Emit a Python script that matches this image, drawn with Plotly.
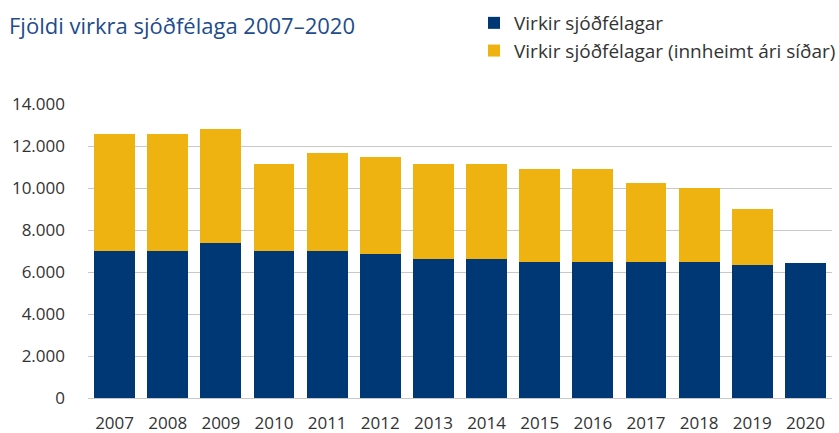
import plotly.graph_objects as go

years = ["2007", "2008", "2009", "2010", "2011", "2012", "2013",
         "2014", "2015", "2016", "2017", "2018", "2019", "2020"]
virkir = [7000, 7000, 7400, 7000, 7000, 6850, 6600,
          6600, 6500, 6500, 6500, 6500, 6350, 6450]
innheimt_seinna = [5550, 5550, 5400, 4150, 4650, 4650, 4550,
                   4550, 4400, 4400, 3750, 3500, 2650, None]
y_ticks = [0, 2000, 4000, 6000, 8000, 10000, 12000, 14000]
y_tick_labels = ["0", "2.000", "4.000", "6.000", "8.000", "10.000", "12.000", "14.000"]

BLUE = "#003876"
YELLOW = "#EEB311"
FONT = "Open Sans"

fig = go.Figure()
fig.add_trace(go.Bar(x=years, y=virkir, name="Virkir sjóðfélagar",
                     marker=dict(color=BLUE, line=dict(width=0))))
fig.add_trace(go.Bar(x=years, y=innheimt_seinna,
                     name="Virkir sjóðfélagar (innheimt ári síðar)",
                     marker=dict(color=YELLOW, line=dict(width=0))))

fig.update_layout(
    width=839, height=433,
    barmode="stack", bargap=0.23,
    paper_bgcolor="white", plot_bgcolor="white",
    margin=dict(l=88, r=7, t=104, b=35, autoexpand=False),
    font=dict(family=FONT, size=17, color="#333333"),
    title=dict(text="Fjöldi virkra sjóðfélaga 2007–2020",
               font=dict(family=FONT, size=22, color="#1E4C8C"),
               xref="container", yref="container",
               x=9/839, xanchor="left", y=1-26/433, yanchor="middle"),
    legend=dict(orientation="v", traceorder="normal",
                x=(474-88)/744, xanchor="left",
                y=1+(104-4)/294, yanchor="top",
                font=dict(family=FONT, size=19, color="#333333"),
                tracegroupgap=0, bgcolor="rgba(0,0,0,0)"),
    showlegend=True,
)
fig.update_xaxes(showgrid=False, showline=False, ticks="", automargin=False,
                 ticklabelstandoff=13,
                 tickfont=dict(size=17, color="#333333"))
fig.update_yaxes(range=[0, 14000], tickvals=y_ticks, ticktext=y_tick_labels,
                 showgrid=True, gridcolor="#C8C8C8", gridwidth=1,
                 zeroline=True, zerolinecolor="#C8C8C8", zerolinewidth=1,
                 showline=False, ticks="", ticklabelstandoff=22, automargin=False,
                 tickfont=dict(size=17, color="#333333"))

fig.write_html("out.html",
               config={"displayModeBar": False},
               post_script="document.body.style.margin='0';document.body.style.padding='0';")
